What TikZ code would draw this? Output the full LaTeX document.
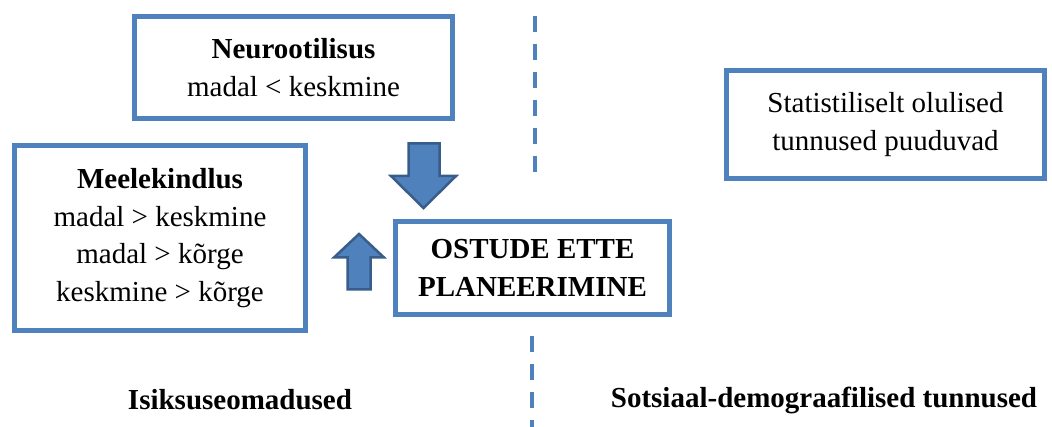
\documentclass[tikz,border=0pt]{standalone}
\usepackage{fontspec}
\setmainfont{Liberation Serif}
\definecolor{boxblue}{RGB}{79,129,189}
\definecolor{arrowedge}{RGB}{56,93,138}
\begin{document}
\begin{tikzpicture}[x=1pt,y=-1pt,
  txt/.style={font=\fontsize{29}{37.5}\selectfont, align=center, inner sep=0pt},
  blbox/.style={txt, draw=boxblue, line width=5pt, fill=white},
  blockarrow/.style={fill=boxblue, draw=arrowedge, line width=2.5pt, line join=miter},
  divider/.style={draw=boxblue, line width=4.5pt, dash pattern=on 16pt off 12pt}
]
\useasboundingbox (0,0) rectangle (1052,427);

% boxes (centre, size = outer size - line width)
\node[blbox, minimum width=318pt, minimum height=102pt] (neuro) at (293.5,67.5)
  {\textbf{Neurootilisus}\\madal < keskmine};
\node[blbox, minimum width=291pt, minimum height=185pt] (meele) at (160,238)
  {\textbf{Meelekindlus}\\madal > keskmine\\madal > kõrge\\keskmine > kõrge};
\node[blbox, minimum width=318pt, minimum height=108pt] (stat) at (885.5,124.5)
  {Statistiliselt olulised\\tunnused puuduvad};
\node[blbox, minimum width=274pt, minimum height=93pt] (ostude) at (532.5,268)
  {\textbf{OSTUDE ETTE}\\\textbf{PLANEERIMINE}};

% dividers
\coordinate (d1) at (535,16);
\coordinate (d2) at (535,175);
\coordinate (d3) at (532,336);
\coordinate (d4) at (532,430);
\draw[divider] (d1) -- (d2);
\draw[divider] (d3) -- (d4);

% block arrows
\draw[blockarrow] (408.5,143.5) -- (439.5,143.5) -- (439.5,176) -- (456,176)
  -- (423.5,208) -- (391,176) -- (408.5,176) -- cycle;
\draw[blockarrow] (347.5,289.5) -- (370.5,289.5) -- (370.5,257.5) -- (384,257.5)
  -- (359,234) -- (334,257.5) -- (347.5,257.5) -- cycle;

% bottom labels
\node[txt] (lab1) at (240,400) {\textbf{Isiksuseomadused}};
\node[txt] (lab2) at (824,400) {\textbf{Sotsiaal-demograafilised tunnused}};
\end{tikzpicture}
\end{document}
